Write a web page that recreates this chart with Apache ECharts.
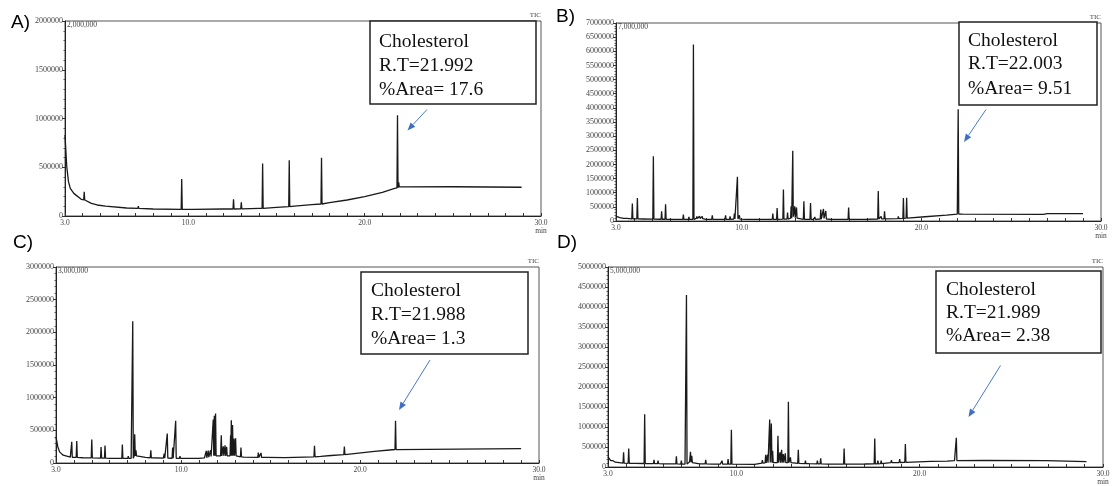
<!DOCTYPE html>
<html>
<head>
<meta charset="utf-8">
<title>GC-MS TIC chromatograms</title>
<script src="https://cdn.jsdelivr.net/npm/echarts@6/dist/echarts.min.js"></script>
<style>
  html, body { margin: 0; padding: 0; background: #fff; }
  #chart { width: 1115px; height: 486px; }
</style>
</head>
<body>
<div id="chart"></div>
<script>
// baseline points: [time (min), intensity]
const aBase = [[3.0, 830000], [3.1, 505000], [3.2, 350000], [3.3, 283000], [3.5, 232000], [3.9, 174000], [4.5, 130000], [5.3, 102000], [6.5, 82000], [8.0, 72000], [10.0, 68000], [12.0, 72000], [14.0, 78000], [15.0, 89000], [16.0, 102000], [17.0, 116000], [18.0, 137000], [19.0, 164000], [20.0, 198000], [21.0, 242000], [21.7, 283000], [22.0, 305000], [22.3, 298000], [25.0, 300000], [28.9, 295000]];
// peaks: [time, top, base]
const aPeaks = [[4.09, 249000, 164000], [4.85, 130000, 113000], [7.16, 102000, 78000], [9.62, 379000, 68000], [10.28, 85000, 68000], [12.56, 171000, 72000], [13.0, 140000, 73000], [14.21, 539000, 78000], [15.72, 573000, 96000], [17.55, 597000, 123000], [21.86, 1034000, 288000], [21.93, 345000, 300000]];

const bBase = [[3.0, 170000], [3.2, 120000], [3.6, 90000], [4.5, 70000], [6.0, 60000], [8.0, 55000], [10.5, 55000], [12.0, 60000], [14.0, 60000], [15.0, 55000], [16.5, 55000], [18.0, 75000], [19.3, 100000], [20.2, 150000], [21.4, 210000], [22.0, 245000], [22.3, 240000], [26.8, 235000], [27.0, 262000], [29.0, 258000]];
const bPeaks = [[3.46, 118000, 95000], [3.91, 615000, 75000], [4.19, 815000, 72000], [5.08, 2290000, 65000], [5.54, 343000, 62000], [5.76, 591000, 62000], [6.15, 118000, 60000], [6.75, 225000, 58000], [7.06, 142000, 58000], [7.31, 6240000, 58000], [7.5, 165000, 90000], [7.65, 170000, 90000], [7.8, 160000, 80000], [8.36, 200000, 55000], [8.78, 83000, 55000], [9.1, 200000, 60000], [9.35, 165000, 60000], [9.59, 260000, 70000], [9.76, 1560000, 70000], [9.87, 200000, 65000], [10.28, 83000, 55000], [11.73, 260000, 60000], [11.97, 461000, 60000], [12.32, 1110000, 65000], [12.55, 296000, 70000], [12.75, 520000, 100000], [12.84, 2480000, 150000], [12.95, 520000, 120000], [13.05, 480000, 100000], [13.46, 697000, 60000], [13.83, 638000, 60000], [14.07, 142000, 60000], [14.4, 402000, 70000], [14.55, 425000, 90000], [14.68, 355000, 70000], [15.95, 473000, 55000], [16.9, 83000, 55000], [17.6, 1060000, 70000], [17.76, 165000, 72000], [17.95, 343000, 75000], [18.72, 165000, 85000], [19.0, 815000, 95000], [19.18, 825000, 100000], [22.05, 3950000, 245000]];

const cBase = [[3.0, 400000], [3.1, 250000], [3.2, 170000], [3.4, 120000], [3.8, 90000], [4.5, 80000], [6.0, 70000], [7.2, 70000], [7.55, 120000], [8.0, 85000], [9.0, 75000], [10.5, 70000], [11.3, 80000], [11.7, 110000], [12.2, 110000], [13.1, 110000], [13.5, 90000], [14.8, 86000], [15.8, 81000], [17.8, 100000], [19.0, 127000], [20.8, 178000], [21.8, 203000], [22.1, 214000], [29.0, 219000]];
const cPeaks = [[3.88, 323000, 88000], [4.16, 338000, 85000], [5.0, 359000, 78000], [5.52, 246000, 75000], [5.74, 267000, 75000], [6.11, 92000, 72000], [6.71, 282000, 70000], [7.04, 103000, 70000], [7.29, 2170000, 72000], [7.4, 441000, 110000], [7.47, 195000, 110000], [8.3, 195000, 80000], [9.05, 144000, 75000], [9.22, 451000, 75000], [9.52, 236000, 73000], [9.69, 646000, 73000], [9.93, 103000, 72000], [10.99, 90000, 72000], [11.4, 185000, 80000], [11.51, 190000, 90000], [11.64, 195000, 100000], [11.79, 667000, 110000], [11.85, 723000, 110000], [11.92, 759000, 110000], [12.24, 426000, 110000], [12.35, 256000, 110000], [12.45, 272000, 110000], [12.54, 246000, 110000], [12.76, 426000, 110000], [12.8, 656000, 110000], [12.87, 580000, 110000], [12.95, 374000, 110000], [13.04, 380000, 110000], [13.34, 236000, 95000], [14.31, 159000, 86000], [14.46, 154000, 86000], [17.45, 265000, 95000], [18.41, 144000, 115000], [18.93, 133000, 125000], [19.12, 250000, 128000], [21.98, 646000, 205000]];

const dBase = [[3.0, 250000], [3.15, 160000], [3.4, 120000], [4.5, 91000], [6.0, 80000], [7.2, 70000], [7.45, 130000], [8.0, 80000], [9.0, 70000], [11.0, 68000], [11.5, 100000], [12.9, 110000], [13.5, 90000], [15.0, 70000], [17.0, 75000], [18.5, 110000], [19.6, 124000], [20.6, 141000], [21.5, 149000], [21.9, 160000], [22.1, 182000], [23.5, 166000], [26.9, 158000], [27.0, 133000], [29.1, 133000]];
const dPeaks = [[3.27, 158000, 130000], [3.85, 365000, 95000], [4.13, 464000, 92000], [5.0, 1320000, 88000], [5.51, 182000, 85000], [5.73, 158000, 83000], [6.09, 116000, 80000], [6.73, 265000, 76000], [7.0, 158000, 72000], [7.28, 4300000, 72000], [7.5, 381000, 120000], [7.57, 282000, 110000], [8.33, 182000, 78000], [8.73, 100000, 74000], [9.09, 116000, 70000], [9.22, 158000, 70000], [9.55, 199000, 70000], [9.73, 929000, 70000], [11.42, 174000, 95000], [11.6, 307000, 105000], [11.7, 307000, 105000], [11.82, 1190000, 110000], [11.91, 1090000, 110000], [11.98, 406000, 110000], [12.27, 779000, 110000], [12.38, 365000, 110000], [12.47, 431000, 110000], [12.56, 323000, 110000], [12.67, 340000, 110000], [12.84, 1630000, 110000], [12.95, 240000, 110000], [13.38, 431000, 92000], [13.77, 158000, 85000], [14.0, 110000, 82000], [14.42, 158000, 78000], [14.6, 216000, 76000], [15.88, 464000, 70000], [17.55, 713000, 78000], [17.72, 158000, 80000], [17.9, 158000, 82000], [18.46, 174000, 108000], [18.91, 199000, 112000], [19.22, 572000, 118000], [22.0, 730000, 160000]];

const yMaxes = [2000000, 7000000, 3000000, 5000000];
const fullScale = ['2,000,000', '7,000,000', '3,000,000', '5,000,000'];
const panelNames = ['A)', 'B)', 'C)', 'D)'];
const rtLabels = ['R.T=21.992', 'R.T=22.003', 'R.T=21.988', 'R.T=21.989'];
const areaLabels = ['%Area= 17.6', '%Area= 9.51', '%Area= 1.3', '%Area= 2.38'];

// layout of the four plots (pixels)
const grids = [
  { left: 65, top: 21, width: 476, height: 195 },
  { left: 616, top: 23, width: 485, height: 198 },
  { left: 56, top: 267, width: 483, height: 196 },
  { left: 608, top: 267, width: 495, height: 201 }
];
const letterPos = [[11, 23], [556, 17], [13, 243], [557, 243]];
const boxes = [
  { x: 370, y: 21, w: 166, h: 83, tx: 379, ty: [42, 65.5, 89.5] },
  { x: 959, y: 22, w: 138, h: 83, tx: 968, ty: [41, 64, 88.5] },
  { x: 361, y: 272, w: 167, h: 82, tx: 371, ty: [290.5, 315, 338.5] },
  { x: 936, y: 271, w: 165, h: 82, tx: 946, ty: [289.5, 312.5, 336] }
];
const arrows = [
  [427, 109.5, 407.5, 130.5],
  [986, 109.5, 964, 142],
  [430, 360, 399, 410],
  [1000.5, 365.5, 968.5, 417]
];

const traces = [[aBase, aPeaks], [bBase, bPeaks], [cBase, cPeaks], [dBase, dPeaks]];

// merge baseline and peak triplets into one sorted line
const buildTrace = (base, peaks) => {
  const pts = base.map(p => [p[0], p[1]]);
  peaks.forEach(p => {
    pts.push([p[0] - 0.03, p[2]], [p[0], p[1]], [p[0] + 0.03, p[2]]);
  });
  return pts.sort((a, b) => a[0] - b[0]);
};

const tickFont = '"Liberation Serif", serif';
const ink = '#1a1a1a';

const arrowGraphic = (x1, y1, x2, y2) => {
  const ang = Math.atan2(y2 - y1, x2 - x1);
  const len = 8, half = 3.2;
  const bx = x2 - len * Math.cos(ang), by = y2 - len * Math.sin(ang);
  const nx = -Math.sin(ang) * half, ny = Math.cos(ang) * half;
  return [
    { type: 'line', shape: { x1: x1, y1: y1, x2: bx, y2: by }, style: { stroke: '#4a78c8', lineWidth: 1 } },
    { type: 'polygon', shape: { points: [[x2, y2], [bx + nx, by + ny], [bx - nx, by - ny]] }, style: { fill: '#3e6fc4' } }
  ];
};

const myChart = echarts.init(document.getElementById('chart'), null, { renderer: 'canvas' });

const graphic = [];
grids.forEach((g, i) => {
  graphic.push({ type: 'text', x: letterPos[i][0], y: letterPos[i][1], style: { text: panelNames[i], font: '19px "Liberation Sans", sans-serif', fill: '#000', verticalAlign: 'middle' } });
  graphic.push({ type: 'text', x: g.left + g.width, y: g.top - 6, style: { text: 'TIC', font: '7px ' + tickFont, fill: '#444', align: 'right', verticalAlign: 'middle' } });
  graphic.push({ type: 'text', x: g.left + 2, y: g.top + 4, style: { text: fullScale[i], font: '7.5px ' + tickFont, fill: '#444', verticalAlign: 'middle' } });
  const b = boxes[i];
  graphic.push({ type: 'rect', shape: { x: b.x, y: b.y, width: b.w, height: b.h }, style: { fill: '#fff', stroke: '#222', lineWidth: 1.5 }, z: 10 });
  ['Cholesterol', rtLabels[i], areaLabels[i]].forEach((t, k) => {
    graphic.push({ type: 'text', x: b.tx, y: b.ty[k], z: 11, style: { text: t, font: '19.5px "Liberation Serif", serif', fill: '#111', verticalAlign: 'middle' } });
  });
  arrowGraphic.apply(null, arrows[i]).forEach(el => { el.z = 12; graphic.push(el); });
});

const option = {
  animation: false,
  grid: grids.map(g => Object.assign({ show: true, borderColor: '#555', borderWidth: 1 }, g)),
  xAxis: grids.map((g, i) => ({
    type: 'value',
    gridIndex: i,
    min: 3,
    max: 30,
    interval: 1,
    axisLine: { lineStyle: { color: '#222', width: 1 } },
    axisTick: { inside: true, length: 3, lineStyle: { color: '#333' } },
    axisLabel: {
      interval: 0,
      showMinLabel: true,
      showMaxLabel: true,
      margin: 3,
      fontFamily: tickFont,
      fontSize: 7.5,
      lineHeight: 8,
      color: '#444',
      formatter: v => (v === 30 ? '30.0\nmin' : (v === 3 || v % 10 === 0) ? v.toFixed(1) : '')
    },
    splitLine: { show: false }
  })),
  yAxis: grids.map((g, i) => ({
    type: 'value',
    gridIndex: i,
    min: 0,
    max: yMaxes[i],
    interval: 500000,
    axisLine: { show: true, lineStyle: { color: '#222', width: 1 } },
    axisTick: { show: true, length: 3, lineStyle: { color: '#333' } },
    minorTick: { show: true, splitNumber: 5, length: 1.5, lineStyle: { color: '#555' } },
    axisLabel: {
      margin: 2,
      fontFamily: tickFont,
      fontSize: 8,
      color: '#444',
      formatter: v => v.toFixed(0)
    },
    splitLine: { show: false }
  })),
  series: traces.map((tr, i) => ({
    type: 'line',
    xAxisIndex: i,
    yAxisIndex: i,
    data: buildTrace(tr[0], tr[1]),
    showSymbol: false,
    symbol: 'none',
    sampling: null,
    lineStyle: { color: ink, width: 1.3 }
  })),
  graphic: graphic
};

myChart.setOption(option);
window.addEventListener('resize', () => myChart.resize());
</script>
</body>
</html>
